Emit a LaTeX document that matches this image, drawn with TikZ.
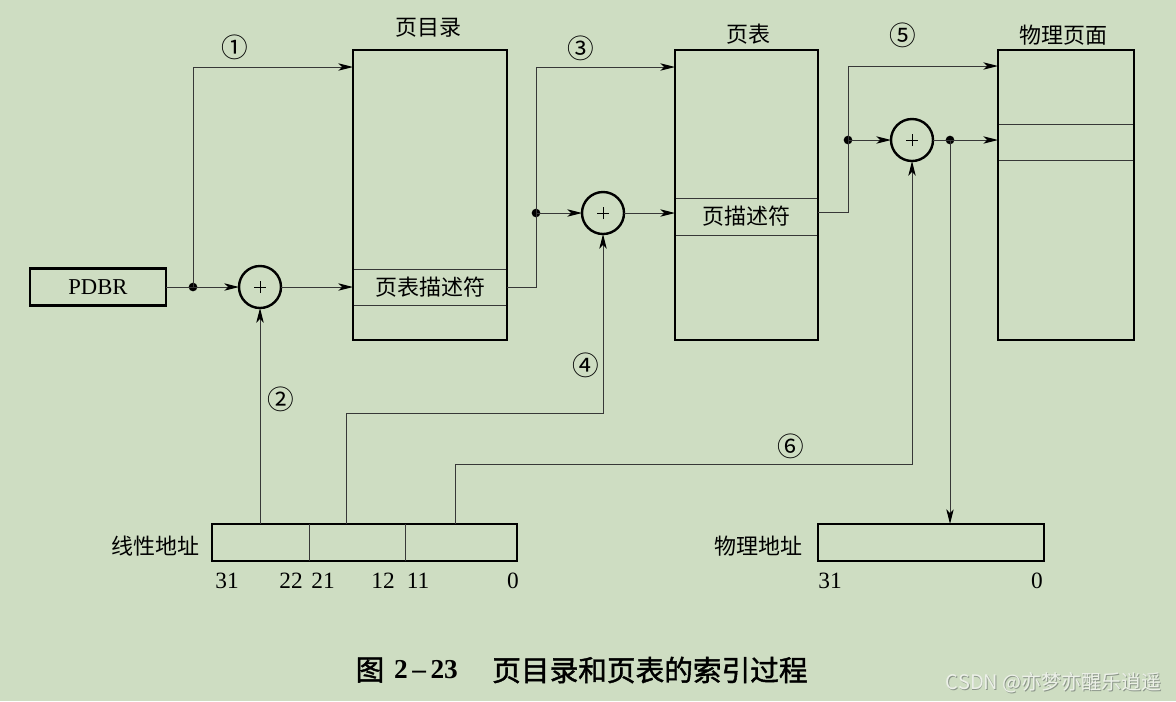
\documentclass[tikz,border=0pt]{standalone}
\usepackage{fontspec}
\setmainfont{Liberation Serif}
\newfontfamily\cjk{Noto Sans CJK SC}
\newfontfamily\cjkcap{Noto Sans CJK SC}[FakeBold=1.5]
\usetikzlibrary{arrows.meta}
\definecolor{bg}{RGB}{206,221,194}
\definecolor{ln}{RGB}{55,55,55}
\definecolor{wm}{RGB}{236,240,232}
\definecolor{wmsh}{RGB}{140,150,138}
\tikzset{
  box/.style={draw=black, line width=2.2pt, inner sep=0pt, outer sep=0pt},
  row/.style={draw=ln, line width=0.7pt, inner sep=0pt, outer sep=0pt, font=\cjk\fontsize{16.5pt}{18pt}\selectfont},
  adder/.style={circle, draw=black, line width=1.8pt, minimum size=31.5pt, inner sep=0pt, outer sep=0pt},
  conn/.style={draw=ln, line width=0.75pt},
  arr/.style={conn, -{Stealth[length=11pt,width=5.5pt,inset=2.8pt,fill=black,color=black]}},
  lbl/.style={font=\cjk\fontsize{16.5pt}{18pt}\selectfont, inner sep=0pt},
  num/.style={font=\fontsize{17.5pt}{19pt}\selectfont, inner sep=0pt},
  circnum/.style={font=\cjk\fontsize{20pt}{22pt}\selectfont, inner sep=0pt},
  dot/.style={circle, fill=black, minimum size=6.5pt, inner sep=0pt},
  plusmark/.style={draw=black, line width=0.6pt},
}
\begin{document}
\begin{tikzpicture}[x=0.75pt,y=-0.75pt]
\fill[bg] (0,0) rectangle (1176,701);
\useasboundingbox (0,0) rectangle (1176,701);

% PDBR
\node[box, minimum width=102pt, minimum height=27.75pt, font=\fontsize{17pt}{18pt}\selectfont] (pdbr) at (98,287) {PDBR};

% page directory
\node[row, minimum width=115.5pt, minimum height=27pt] (dirent) at (430,287) {页表描述符};
\node[box, minimum width=115.5pt, minimum height=217.5pt] (dir) at (430,195) {};
\node[lbl] (dirt) at (428,28) {页目录};

% page table
\node[row, minimum width=107.25pt, minimum height=27.75pt] (ptent) at (746.5,216.5) {页描述符};
\node[box, minimum width=107.25pt, minimum height=217.5pt] (pt) at (746.5,195) {};
\node[lbl] (ptt) at (748,34) {页表};

% physical page
\node[row, minimum width=102pt, minimum height=27pt] (ppent) at (1066,142) {};
\node[box, minimum width=102pt, minimum height=217.5pt] (pp) at (1066,195) {};
\node[lbl] (ppt) at (1063,35) {物理页面};

% adders
\node[adder] (p1) at (260,287) {};
\node[adder] (p2) at (603,213) {};
\node[adder] (p3) at (912,140) {};
\foreach \p in {p1,p2,p3}{
  \draw[plusmark] ([xshift=-4.5pt]\p.center) -- ([xshift=4.5pt]\p.center)
                  ([yshift=-4.5pt]\p.center) -- ([yshift=4.5pt]\p.center);
}

% dots
\node[dot] (d1) at (193,287) {};
\node[dot] (d2) at (536,213) {};
\node[dot] (d3) at (848,140) {};
\node[dot] (d4) at (950,140) {};

% address boxes
\node[box, minimum width=228.75pt, minimum height=27.75pt] (la) at (364.5,542.5) {};
\draw[conn] ([xshift=72.75pt]la.north west) -- ([xshift=72.75pt]la.south west);
\draw[conn] ([xshift=144.75pt]la.north west) -- ([xshift=144.75pt]la.south west);
\node[lbl] (lal) at (155,546) {线性地址};
\node[box, minimum width=169.5pt, minimum height=27.75pt] (pa) at (931,542.5) {};
\node[lbl] (pal) at (758,546) {物理地址};

% bit numbers
\node[num] (n31) at (227,581) {31};
\node[num] (n22) at (291,581) {22};
\node[num] (n21) at (323,581) {21};
\node[num] (n12) at (383,581) {12};
\node[num] (n11) at (418,581) {11};
\node[num] (n0) at (513,581) {0};
\node[num] (m31) at (830,581) {31};
\node[num] (m0) at (1037,581) {0};

% circled step numbers
\node[circnum] (s1) at (235,47) {①};
\node[circnum] (s2) at (281,399) {②};
\node[circnum] (s3) at (581,48) {③};
\node[circnum] (s4) at (586,365) {④};
\node[circnum] (s5) at (903,35) {⑤};
\node[circnum] (s6) at (791,446) {⑥};

% connectors
\coordinate (t1) at (193,67);
\coordinate (t3) at (536,67);
\coordinate (o3) at (818,212);
\coordinate (t5) at (848,66);
\coordinate (c4) at (346,413);
\coordinate (c6) at (455,464);

\draw[conn] (pdbr.east) -- (d1.center);
\draw[arr] (d1.center) -- (p1);
\draw[arr] (p1) -- (p1 -| dir.west);
\draw[arr] (d1.center) -- (t1) -- (t1 -| dir.west);
\draw[arr] (dirent.east) -| (t3) -- (t3 -| pt.west);
\draw[arr] (d2.center) -- (p2);
\draw[arr] (p2) -- (p2 -| pt.west);
\draw[arr] (o3) -| (t5) -- (t5 -| pp.west);
\draw[arr] (d3.center) -- (p3);
\draw[conn] (p3) -- (d4.center);
\draw[arr] (d4.center) -- (d4 -| pp.west);
\draw[arr] (d4.center) -- (d4 |- pa.north);
\draw[arr] (p1 |- la.north) -- (p1);
\draw[arr] (c4 |- la.north) -- (c4) -| (p2);
\draw[arr] (c6 |- la.north) -- (c6) -| (p3);

% caption
\node[font=\cjkcap\fontsize{21.5pt}{24pt}\selectfont, inner sep=0pt] (cap1) at (370,670) {图};
\node[font=\bfseries\fontsize{20.5pt}{24pt}\selectfont, inner sep=0pt] (cap2) at (426,670) {2\,–\,23};
\node[font=\cjkcap\fontsize{21.5pt}{24pt}\selectfont, inner sep=0pt, anchor=west] (cap3) at (492,670) {页目录和页表的索引过程};

% watermark
\node[font=\cjk\fontsize{15pt}{18pt}\selectfont, text=wmsh, inner sep=0pt, anchor=east] (wms) at (1162.8,683.8) {CSDN @亦梦亦醒乐逍遥};
\node[font=\cjk\fontsize{15pt}{18pt}\selectfont, text=wm, inner sep=0pt, anchor=east] (wmt) at (1162,683) {CSDN @亦梦亦醒乐逍遥};
\end{tikzpicture}
\end{document}
